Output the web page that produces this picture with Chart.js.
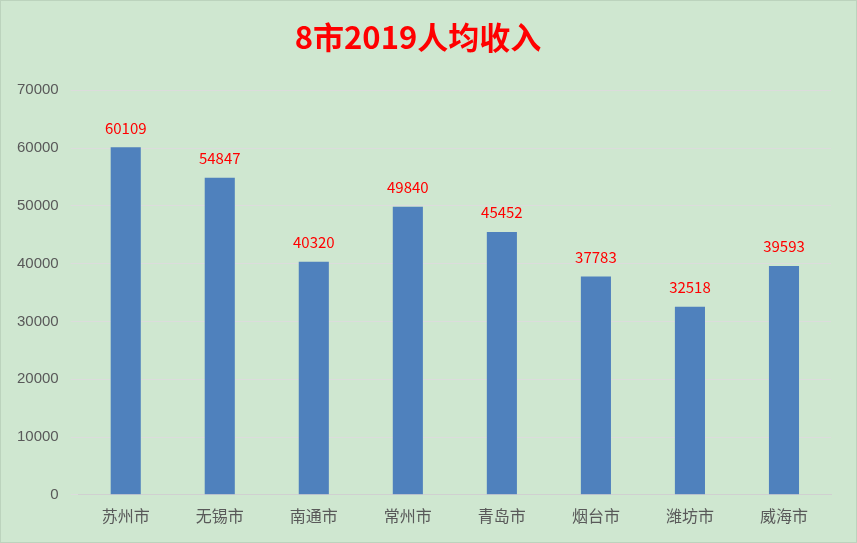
<!DOCTYPE html>
<html><head><meta charset="utf-8">
<script src="https://cdn.jsdelivr.net/npm/chart.js@4"></script>
<style>
html,body{margin:0;padding:0;background:#cfe7d0;}
#wrap{width:857px;height:543px;position:relative;box-sizing:border-box;border:1px solid #bcd3bd;}
</style></head><body>
<div id="wrap"><canvas id="chart"></canvas></div>
<script>
let cities = ['苏州市', '无锡市', '南通市', '常州市', '青岛市', '烟台市', '潍坊市', '威海市'];
let income = [60109, 54847, 40320, 49840, 45452, 37783, 32518, 39593];
let yTicks = [0, 10000, 20000, 30000, 40000, 50000, 60000, 70000];

// red value labels above the bars
let valueLabels = {
    id: 'valueLabels',
    afterDatasetsDraw(chart) {
        let c = chart.ctx;
        c.save();
        c.fillStyle = '#ff0000';
        c.font = '15px "Noto Sans CJK SC", sans-serif';
        c.textAlign = 'center';
        c.textBaseline = 'bottom';
        chart.getDatasetMeta(0).data.forEach((bar, i) => {
            c.fillText(income[i], bar.x, bar.y - 12);
        });
        c.restore();
    }
};

let ctx = document.getElementById('chart').getContext('2d');
new Chart(ctx, {
    type: 'bar',
    data: {
        labels: cities,
        datasets: [{
            data: income,
            backgroundColor: '#4f81bd',
            barPercentage: 0.64,
            categoryPercentage: 0.5,
        }]
    },
    options: {
        responsive: true,
        maintainAspectRatio: false,
        animation: false,
        layout: { padding: { left: 4, right: 25, top: 0, bottom: 12 } },
        scales: {
            x: {
                grid: { display: false },
                border: { color: '#d0d0d0' },
                ticks: { color: '#595959', font: { size: 16, family: '"Noto Sans CJK SC"' }, padding: 4 }
            },
            y: {
                min: 0, max: 70000,
                afterBuildTicks: axis => { axis.ticks = yTicks.map(v => ({ value: v })); },
                grid: { color: '#dcdcdc', lineWidth: 1 },
                border: { display: false },
                ticks: { color: '#595959', font: { size: 15 }, padding: 12, callback: v => String(v) }
            }
        },
        plugins: {
            legend: { display: false },
            tooltip: { enabled: false },
            title: {
                display: true,
                text: '8市2019人均收入',
                color: '#ff0000',
                font: { size: 31, weight: 'bold', family: '"Noto Sans CJK SC"' },
                padding: { top: 18, bottom: 34 }
            }
        }
    },
    plugins: [valueLabels]
});
</script>
</body></html>
